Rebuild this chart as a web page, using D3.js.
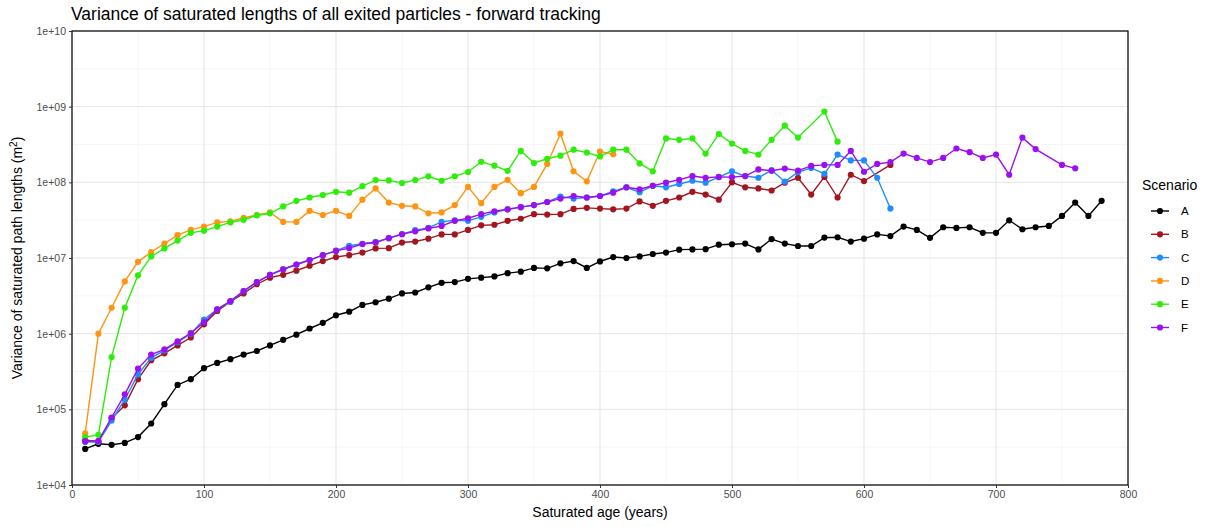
<!DOCTYPE html>
<html><head><meta charset="utf-8">
<script src="https://cdn.jsdelivr.net/npm/d3@7"></script>
<style>body{margin:0;background:#fff;font-family:"Liberation Sans",Arial,sans-serif}</style>
</head><body>
<script>
// ages (years) per scenario
const agesA = [10,20,30,40,50,60,70,80,90,100,110,120,130,140,150,160,170,180,190,200,210,220,230,240,250,260,270,280,290,300,310,320,330,340,350,360,370,380,390,400,410,420,430,440,450,460,470,480,490,500,510,520,530,540,550,560,570,580,590,600,610,620,630,640,650,660,670,680,690,700,710,720,730,740,750,760,770,780];
const valsA = [3.0e4,3.5e4,3.4e4,3.6e4,4.3e4,6.5e4,1.17e5,2.1e5,2.5e5,3.5e5,4.1e5,4.6e5,5.3e5,5.9e5,7.0e5,8.3e5,9.7e5,1.17e6,1.39e6,1.75e6,1.95e6,2.4e6,2.6e6,2.9e6,3.4e6,3.5e6,4.1e6,4.7e6,4.8e6,5.3e6,5.5e6,5.7e6,6.3e6,6.6e6,7.4e6,7.3e6,8.5e6,9.1e6,7.4e6,9.0e6,1.03e7,1.0e7,1.05e7,1.13e7,1.18e7,1.29e7,1.3e7,1.31e7,1.5e7,1.52e7,1.55e7,1.3e7,1.78e7,1.55e7,1.44e7,1.44e7,1.86e7,1.88e7,1.65e7,1.8e7,2.05e7,1.95e7,2.6e7,2.35e7,1.85e7,2.55e7,2.5e7,2.55e7,2.15e7,2.15e7,3.15e7,2.4e7,2.55e7,2.65e7,3.6e7,5.4e7,3.6e7,5.7e7];

const agesB = [10,20,30,40,50,60,70,80,90,100,110,120,130,140,150,160,170,180,190,200,210,220,230,240,250,260,270,280,290,300,310,320,330,340,350,360,370,380,390,400,410,420,430,440,450,460,470,480,490,500,510,520,530,540,550,560,570,580,590,600,620];
const valsB = [3.9e4,3.8e4,7.6e4,1.13e5,2.5e5,4.45e5,5.5e5,7.0e5,8.9e5,1.33e6,2.0e6,2.65e6,3.4e6,4.5e6,5.5e6,6.0e6,6.8e6,7.9e6,9.1e6,1.03e7,1.09e7,1.18e7,1.34e7,1.35e7,1.6e7,1.65e7,1.8e7,2.05e7,2.05e7,2.35e7,2.7e7,2.75e7,3.1e7,3.3e7,3.8e7,3.75e7,3.8e7,4.45e7,4.6e7,4.5e7,4.4e7,4.5e7,5.6e7,4.9e7,5.7e7,6.3e7,7.5e7,6.9e7,5.9e7,1.0e8,8.6e7,8.3e7,7.8e7,9.9e7,1.15e8,6.9e7,1.18e8,6.3e7,1.26e8,1.04e8,1.7e8];

const agesC = [10,20,30,40,50,60,70,80,90,100,110,120,130,140,150,160,170,180,190,200,210,220,230,240,250,260,270,280,290,300,310,320,330,340,350,360,370,380,390,400,410,420,430,440,450,460,470,480,490,500,510,520,530,540,550,560,570,580,590,600,610,620];
const valsC = [3.7e4,3.7e4,7.1e4,1.35e5,2.9e5,4.8e5,6.0e5,7.7e5,1.0e6,1.54e6,2.1e6,2.65e6,3.65e6,4.8e6,6.0e6,7.1e6,8.2e6,9.4e6,1.09e7,1.25e7,1.45e7,1.54e7,1.63e7,1.83e7,2.07e7,2.34e7,2.5e7,3.0e7,3.15e7,3.1e7,3.5e7,4.0e7,4.4e7,4.7e7,5.0e7,5.5e7,6.5e7,6.1e7,6.3e7,6.6e7,7.6e7,8.6e7,7.4e7,9.0e7,8.6e7,9.5e7,1.05e8,9.9e7,1.17e8,1.4e8,1.21e8,1.15e8,1.45e8,1.02e8,1.36e8,1.55e8,1.29e8,2.33e8,1.95e8,1.95e8,1.15e8,4.5e7];

const agesD = [10,20,30,40,50,60,70,80,90,100,110,120,130,140,150,160,170,180,190,200,210,220,230,240,250,260,270,280,290,300,310,320,330,340,350,360,370,380,390,400,410];
const valsD = [4.8e4,1.0e6,2.2e6,4.9e6,8.9e6,1.2e7,1.55e7,2.0e7,2.35e7,2.6e7,2.95e7,3.05e7,3.4e7,3.7e7,4.0e7,3.0e7,3.0e7,4.2e7,3.7e7,4.2e7,3.6e7,5.9e7,8.3e7,5.4e7,4.9e7,4.8e7,3.9e7,4.0e7,5.0e7,8.7e7,5.3e7,8.7e7,1.08e8,7.2e7,8.7e7,1.75e8,4.4e8,1.4e8,1.03e8,2.55e8,2.35e8];

const agesE = [10,20,30,40,50,60,70,80,90,100,110,120,130,140,150,160,170,180,190,200,210,220,230,240,250,260,270,280,290,300,310,320,330,340,350,360,370,380,390,400,410,420,430,440,450,460,470,480,490,500,510,520,530,540,550,570,580];
const valsE = [4.3e4,4.6e4,4.9e5,2.2e6,5.9e6,1.05e7,1.34e7,1.7e7,2.15e7,2.3e7,2.6e7,2.95e7,3.2e7,3.65e7,3.9e7,4.8e7,5.7e7,6.3e7,6.8e7,7.5e7,7.3e7,8.9e7,1.07e8,1.06e8,9.8e7,1.07e8,1.2e8,1.05e8,1.2e8,1.37e8,1.87e8,1.66e8,1.42e8,2.6e8,1.8e8,2.05e8,2.25e8,2.7e8,2.47e8,2.2e8,2.7e8,2.7e8,1.78e8,1.4e8,3.8e8,3.65e8,3.8e8,2.4e8,4.35e8,3.25e8,2.6e8,2.33e8,3.65e8,5.6e8,3.9e8,8.6e8,3.45e8];

const agesF = [10,20,30,40,50,60,70,80,90,100,110,120,130,140,150,160,170,180,190,200,210,220,230,240,250,260,270,280,290,300,310,320,330,340,350,360,370,380,390,400,410,420,430,440,450,460,470,480,490,500,510,520,530,540,550,560,570,580,590,600,610,620,630,640,650,660,670,680,690,700,710,720,730,750,760];
const valsF = [3.8e4,3.8e4,7.8e4,1.58e5,3.45e5,5.3e5,6.2e5,7.9e5,1.02e6,1.41e6,2.1e6,2.7e6,3.65e6,4.8e6,6.0e6,7.1e6,8.2e6,9.4e6,1.09e7,1.24e7,1.35e7,1.53e7,1.6e7,1.83e7,2.06e7,2.25e7,2.46e7,2.65e7,3.1e7,3.35e7,3.8e7,4.15e7,4.4e7,4.7e7,5.0e7,5.5e7,6.1e7,6.6e7,6.3e7,6.6e7,7.3e7,8.6e7,8.1e7,9.0e7,9.9e7,1.08e8,1.21e8,1.15e8,1.18e8,1.17e8,1.21e8,1.48e8,1.42e8,1.52e8,1.43e8,1.65e8,1.7e8,1.7e8,2.6e8,1.38e8,1.75e8,1.85e8,2.4e8,2.1e8,1.85e8,2.1e8,2.8e8,2.5e8,2.1e8,2.33e8,1.26e8,3.9e8,2.75e8,1.7e8,1.53e8];

const scenarios = ["A","B","C","D","E","F"];
const colors = ["#000000","#a3151f","#1e8cff","#ff9412","#2cee08","#9b0ff0"];
const xTicks = [0,100,200,300,400,500,600,700,800];
const yTicks = [1e4,1e5,1e6,1e7,1e8,1e9,1e10];

const series = [[agesA,valsA],[agesB,valsB],[agesC,valsC],[agesD,valsD],[agesE,valsE],[agesF,valsF]]
  .map(([a,v],i) => ({name: scenarios[i], color: colors[i], pts: a.map((x,j) => ({x, y: v[j]}))}));

const width = 1223, height = 527;
const margin = {top: 31, right: 95, bottom: 42, left: 72};

const x = d3.scaleLinear().domain([0,800]).range([margin.left, width - margin.right]);
const y = d3.scaleLog().domain([1e4,1e10]).range([height - margin.bottom, margin.top]);

const svg = d3.select("body").append("svg").attr("width", width).attr("height", height);

// grid
const grid = svg.append("g");
const xMinor = xTicks.slice(0,-1).map(d => d + 50);
const yMinor = yTicks.slice(0,-1).map(d => d * Math.sqrt(10));
grid.selectAll(".xm").data(xMinor).enter().append("line")
  .attr("x1", d => x(d)).attr("x2", d => x(d)).attr("y1", y(1e4)).attr("y2", y(1e10))
  .attr("stroke", "#f2f2f2").attr("stroke-width", 0.6);
grid.selectAll(".ym").data(yMinor).enter().append("line")
  .attr("y1", d => y(d)).attr("y2", d => y(d)).attr("x1", x(0)).attr("x2", x(800))
  .attr("stroke", "#f2f2f2").attr("stroke-width", 0.6);
grid.selectAll(".xM").data(xTicks).enter().append("line")
  .attr("x1", d => x(d)).attr("x2", d => x(d)).attr("y1", y(1e4)).attr("y2", y(1e10))
  .attr("stroke", "#e5e5e5").attr("stroke-width", 1);
grid.selectAll(".yM").data(yTicks).enter().append("line")
  .attr("y1", d => y(d)).attr("y2", d => y(d)).attr("x1", x(0)).attr("x2", x(800))
  .attr("stroke", "#e5e5e5").attr("stroke-width", 1);

// lines & points
const line = d3.line().x(d => x(d.x)).y(d => y(d.y));
const g = svg.append("g");
series.forEach(s => {
  g.append("path").attr("d", line(s.pts)).attr("fill", "none")
    .attr("stroke", s.color).attr("stroke-width", 1.4);
  g.selectAll(null).data(s.pts).enter().append("circle")
    .attr("cx", d => x(d.x)).attr("cy", d => y(d.y)).attr("r", 3.1).attr("fill", s.color);
});

// panel border
svg.append("rect").attr("x", x(0)).attr("y", y(1e10))
  .attr("width", x(800) - x(0)).attr("height", y(1e4) - y(1e10))
  .attr("fill", "none").attr("stroke", "#000").attr("stroke-width", 1.2);

// axes
const fmt = d => "1e+" + String(Math.round(Math.log10(d))).padStart(2, "0");
const xAxis = svg.append("g").attr("transform", `translate(0,${y(1e4)})`)
  .call(d3.axisBottom(x).tickValues(xTicks).tickSize(3).tickPadding(3).tickFormat(d3.format("d")));
const yAxis = svg.append("g").attr("transform", `translate(${x(0)},0)`)
  .call(d3.axisLeft(y).tickValues(yTicks).tickSize(3).tickPadding(3).tickFormat(fmt));
[xAxis, yAxis].forEach(a => {
  a.select(".domain").remove();
  a.selectAll("line").attr("stroke", "#333");
  a.selectAll("text").attr("fill", "#4d4d4d").style("font-size", "10.5px")
    .style("font-family", "Liberation Sans, Arial, sans-serif");
});

// titles
svg.append("text").attr("x", 71).attr("y", 20).attr("font-size", 17.5).attr("fill", "#000")
  .text("Variance of saturated lengths of all exited particles - forward tracking");
svg.append("text").attr("x", (x(0) + x(800)) / 2).attr("y", 517).attr("text-anchor", "middle")
  .attr("font-size", 14).text("Saturated age (years)");
const yl = svg.append("text").attr("transform", `translate(22,${(y(1e4) + y(1e10)) / 2}) rotate(-90)`)
  .attr("text-anchor", "middle").attr("font-size", 14);
yl.append("tspan").text("Variance of saturated path lengths (m");
yl.append("tspan").attr("dy", -5).attr("font-size", 10).text("2");
yl.append("tspan").attr("dy", 5).text(")");

// legend
const lg = svg.append("g").attr("transform", "translate(1142,0)");
lg.append("text").attr("x", 0).attr("y", 190).attr("font-size", 14).text("Scenario");
series.forEach((s, i) => {
  const yy = 211 + i * 23.3;
  lg.append("line").attr("x1", 9).attr("x2", 27).attr("y1", yy).attr("y2", yy)
    .attr("stroke", s.color).attr("stroke-width", 1.4);
  lg.append("circle").attr("cx", 18).attr("cy", yy).attr("r", 3.1).attr("fill", s.color);
  lg.append("text").attr("x", 39).attr("y", yy + 4).attr("font-size", 11.5).text(s.name);
});
</script>
</body></html>
